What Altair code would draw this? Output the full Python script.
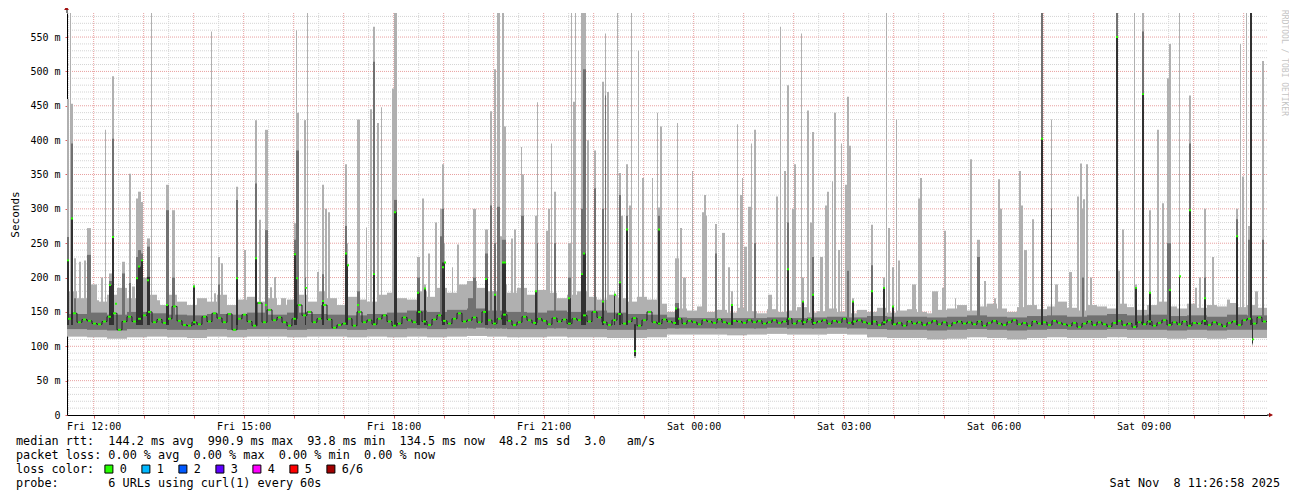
import altair as alt
import pandas as pd

MONO = "DejaVu Sans Mono"
N = None

# ---- time frame: minutes since Fri 00:00, one RRD row = 72 s = 1.2 min ----
T_START = 688.0
ROW_MIN = 1.2
N_ROWS = 1200
T_END = T_START + N_ROWS * ROW_MIN

hour_ticks = list(range(720, 2101, 60))
half_hour_ticks = list(range(690, 2101, 60))
ms_labels = list(range(0, 551, 50))
ms_major_grid = list(range(50, 551, 50))
ms_minor_grid = [v for v in range(10, 581, 10) if v % 50]

loss_labels = ["0", "1", "2", "3", "4", "5", "6/6"]
loss_colors = ["#26ff00", "#00b8ff", "#0059ff", "#5e00ff", "#ff00ff", "#ff0000", "#a10000"]

# ---- baseline smoke: 60 bins of 20 rows (ms) ----
base_p1 = [114,113,111,113,114,113,112,114,113,114, 114,113,114,114,113,114,113,114,113,114,
           115,114,113,113,114,113,113,112,112,113, 117,117,117,116,117,118,117,117,118,117,
           113,112,112,110,111,113,112,110,112,113, 112,112,113,112,112,111,112,111,112,112]
base_p2 = [125,124,123,125,125,124,124,125,124,125, 125,124,125,125,124,125,125,126,125,126,
           127,126,125,125,126,125,125,124,124,125, 126,126,126,126,126,127,126,126,127,126,
           125,124,124,123,124,125,124,123,124,125, 124,124,125,124,124,123,124,123,124,124]
base_p5 = [147,149,146,150,148,146,145,147,146,149, 146,149,147,146,145,147,149,152,150,153,
           155,152,150,149,152,150,152,149,147,146, 142,141,141,141,141,142,141,142,143,142,
           144,143,143,142,143,145,143,142,144,145, 143,145,147,145,146,144,145,143,146,145]
# outer smoke top: 120 bins of 10 rows (ms)
base_p6 = [180,170,190,165,175,185,170,200,175,160, 175,165,160,170,165,175,160,168,172,165,
           170,160,168,175,165,180,170,160,172,168, 165,175,178,170,168,180,172,185,178,190,
           195,185,180,190,178,185,175,182,178,170, 175,180,172,168,175,170,165,172,168,162,
           150,155,152,158,150,153,149,156,151,148, 154,150,152,157,149,151,155,150,148,153,
           150,156,149,152,154,150,148,153,155,160, 152,158,162,155,150,157,160,154,158,165,
           156,152,160,158,155,162,157,153,160,165, 158,155,162,156,160,158,163,157,160,156]

# ---- median rtt, 240 slots of 5 rows (ms) ----
median_ms = [140,148,135,139,137,133,132,136,143,148, 124,136,143,136,140,145,150,135,139,134,
             140,158,137,131,130,135,132,143,136,148, 141,135,147,124,140,146,136,130,163,135,
             153,138,142,135,130,140,160,145,150,135, 140,160,139,127,131,133,140,130,150,
             135,138,132,140,145,136,130,133,142,138,135,150,136,131,139,145,137,133,140,148,136,
             138,142,135,150,138,133,140,146,137,131,135,143,138,134,140,137,132,141,136,139,
             133,140,138,145,136,150,142,135,131,138,147,133,136,141,130,138,150,135,133,139,
             136,134,140,133,137,135,132,138,136,134,139,135,133,137,136,134,138,135,137,133,
             135,138,134,136,140,133,137,135,139,134,136,138,133,137,135,140,134,136,138,135,
             133,136,131,135,138,132,134,130,136,133,135,131,134,137,132,135,130,134,136,133,
             135,132,136,130,134,137,133,131,135,138,132,134,130,136,133,135,131,137,134,132,
             130,134,128,133,136,131,135,132,129,134,137,131,133,128,135,132,136,130,134,138,
             131,135,132,136,130,134,133,137,131,135,132,129,134,136,131,138,140,133,142,136]

# ---- spikes: start row, rows wide, outer max, p5, p4, median (ms) ----
spike_row = [0,3,4,7,12,17,20,26,30,34, 38,42,45,48,52,55,62,65,69,71,
             74,80,84,86,99,105,126,144,147,151, 154,169,177,188,192,198,203,207,214,227,
             229,230,237,238,240,250,255,258,261,278, 280,290,299,303,306,310,314,325,327,350,
             355,357,361,368,373,375,377,385,390,397, 401,406,418,423,427,430,433,435,437,444,
             447,454,455,468,470,479,481,484,487,501, 504,506,508,514,516,520,527,535,538,540,
             547,550,552,554,559,562,564,571,575,585, 590,591,593,608,610,613,616,625,635,637,
             639,648,655,661,664,670,673,675,677,681, 684,687,701,709,713,717,720,725,727,734,
             735,740,743,745,753,758,760,765,767,771, 774,778,780,782,785,804,816,819,821,825,
             829,831,845,851,853,865,875,877,888,903, 910,917,927,931,933,952,954,957,965,974,
             984,988,1002,1010,1013,1015,1016,1019,1023,1049, 1051,1055,1067,1068,1075,1082,1090,1095,1100,1102,
             1112,1122,1128,1132,1137,1145,1160,1169,1173,1175, 1179,1181,1183,1188,1195]
spike_w = [2,1,2,2,2,2,4,2,2,2, 1,3,2,2,6,3,2,3,2,3,
           2,3,1,7,3,3,2,1,2,2, 2,2,2,2,2,3,2,2,5,2,
           1,2,2,1,1,2,2,2,2,2, 1,3,1,2,2,2,1,2,3,3,
           2,2,2,2,2,2,1,1,2,3, 8,3,3,2,2,3,2,2,2,2,
           2,1,2,2,1,2,2,1,2,3, 1,2,1,2,3,2,2,2,1,2,
           1,1,2,2,2,2,1,1,2,1, 1,2,2,4,1,2,3,1,2,2,
           1,2,3,2,2,1,2,1,3,3, 1,2,4,2,1,2,2,2,2,1,
           2,2,2,2,3,2,2,1,2,2, 1,2,2,2,2,2,2,1,2,2,
           1,2,4,2,2,6,2,2,1,2, 3,2,2,2,2,2,2,3,2,2,
           1,3,3,2,2,2,2,2,2,2, 2,2,1,2,2,2,2,2,2,2,
           1,2,2,2,2,2,3,2,1,2, 1,2,2,3,2]
spike_max = [460,640,453,228,223,225,272,162,167,200, 415,206,493,165,182,223,351,187,315,325,
             310,257,640,167,335,298,190,558,177,230, 221,332,240,429,284,415,186,201,170,279,
             560,440,429,429,650,208,335,300,295,365, 250,430,273,445,565,425,448,475,700,230,
             315,190,235,280,300,365,250,215,248,185, 190,300,270,442,503,700,260,700,420,257,
             270,390,350,290,455,268,300,395,325,250, 700,456,700,700,700,400,385,485,555,470,
             180,700,352,290,365,305,700,530,345,345, 440,302,420,228,425,272,200,355,295,320,
             290,278,265,215,180,423,320,345,245,303, 395,415,175,318,565,355,480,300,365,555,
             200,443,280,412,230,305,325,340,440,240, 395,335,463,392,170,277,200,700,272,215,
             430,225,190,315,345,180,185,268,170,372, 255,195,170,343,300,355,305,240,285,700,
             430,190,208,318,366,300,314,365,200,700, 210,270,700,190,700,298,415,308,490,540,
             700,465,185,200,300,230,168,300,540,347, 700,275,990,180,515]
spike_p5 = [259,N,395,170,N,N,233,N,N,N, N,195,402,N,N,206,192,N,230,240,
            235,245,N,N,298,200,N,N,N,190, N,313,N,337,N,269,N,N,N,255,
            385,385,N,200,N,N,205,N,N,275, N,180,N,N,514,N,N,N,313,200,
            N,N,N,N,260,300,N,N,N,N, 170,200,235,305,250,303,N,255,255,N,
            N,290,290,N,250,N,N,N,250,200, N,N,N,300,503,N,330,300,465,N,
            N,N,320,N,290,N,N,N,N,N, N,290,N,163,N,N,N,N,N,N,
            N,235,N,N,N,N,N,N,N,N, N,250,N,N,N,N,280,N,N,N,
            N,N,N,230,N,N,N,N,N,N, N,N,210,N,N,218,N,N,N,N,
            N,N,N,N,N,N,N,N,N,N, 230,N,N,N,N,N,N,N,N,700,
            300,N,N,N,N,200,N,N,N,700, N,N,N,N,558,N,N,N,250,250,
            N,395,N,N,200,N,N,285,N,N, N,255,990,N,255]
spike_p4 = [225,N,286,N,N,N,N,N,N,N, N,189,259,N,N,N,N,N,200,216,
            225,201,N,N,160,N,187,N,N,N, N,199,N,228,N,N,N,N,N,235,
            200,N,N,185,N,N,166,N,N,235, 218,N,N,N,205,N,N,N,295,178,
            N,184,N,N,N,222,222,N,N,N, N,N,198,N,175,N,N,222,222,N,
            N,N,N,180,N,N,N,N,N,170, N,N,N,205,235,N,N,165,N,N,
            175,N,193,N,270,N,N,N,N,N, N,270,N,155,N,N,N,N,N,N,
            N,N,N,N,160,N,N,N,N,N, N,N,N,N,N,N,212,N,N,N,
            165,N,N,175,N,N,N,N,N,N, N,N,N,N,165,180,185,N,N,158,
            N,N,N,N,N,N,N,N,N,N, N,N,N,N,N,N,N,N,N,402,
            N,N,N,N,N,N,N,N,N,550, N,N,N,185,467,178,N,N,N,182,
            202,298,N,N,170,N,N,260,N,N, N,N,990,N,N]
spike_median = [225,N,286,N,N,N,N,N,N,N, N,189,259,162,N,N,N,N,199,216,
                225,196,N,N,160,N,187,N,N,N, N,199,N,228,N,160,N,N,N,234,
                199,N,N,185,N,N,166,N,N,235, 218,160,N,N,205,N,N,N,295,178,
                N,184,N,N,N,215,222,N,N,N, N,N,198,N,175,N,N,222,222,N,
                N,N,N,180,N,N,N,N,N,170, N,N,N,205,235,N,N,165,N,N,
                175,N,193,N,270,N,N,N,N,N, N,270,N,155,N,N,N,N,N,N,
                N,N,N,N,160,N,N,N,N,N, N,N,N,N,N,N,212,N,N,N,
                165,N,N,175,N,N,N,N,N,N, N,N,N,N,165,180,185,N,N,158,
                N,N,N,N,N,N,N,N,N,N, N,N,N,N,N,N,N,N,N,402,
                N,N,N,N,N,N,N,N,N,550, N,N,N,185,467,178,N,N,N,182,
                202,298,N,N,170,N,N,260,N,N, N,N,990.9,N,N]

# ---- downward dips ----
dip_row = [567, 1185]
dip_w = [2, 1]
dip_low = [86, 104]
dip_median = [93, 110]

info_rtt = "median rtt:  144.2 ms avg  990.9 ms max  93.8 ms min  134.5 ms now  48.2 ms sd  3.0   am/s"
info_loss = "packet loss: 0.00 % avg  0.00 % max  0.00 % min  0.00 % now"
info_probe = "probe:       6 URLs using curl(1) every 60s"
info_date = "Sat Nov  8 11:26:58 2025"
watermark = "RRDTOOL / TOBI OETIKER"


def nb(s):
    return s.replace(" ", "\u00a0")


def tmin(row):
    return T_START + row * ROW_MIN


# ---- build tables ----
smoke = []
for k in range(len(base_p6)):
    t0, t1 = tmin(10 * k), tmin(10 * k + 10)
    smoke.append(dict(t0=t0, t1=t1, lo=base_p1[k // 2], hi=base_p6[k], band="light"))
for k in range(len(base_p2)):
    t0, t1 = tmin(20 * k), tmin(20 * k + 20)
    smoke.append(dict(t0=t0, t1=t1, lo=base_p2[k], hi=base_p5[k], band="mid"))
for i, r in enumerate(spike_row):
    t0, t1 = tmin(r), tmin(r + spike_w[i])
    if spike_max[i] is not None:
        smoke.append(dict(t0=t0, t1=t1, lo=120, hi=spike_max[i], band="light"))
    if spike_p5[i] is not None:
        smoke.append(dict(t0=t0, t1=t1, lo=126, hi=spike_p5[i], band="mid"))
    if spike_p4[i] is not None:
        smoke.append(dict(t0=t0, t1=t1, lo=131, hi=spike_p4[i], band="dark"))
for i, r in enumerate(dip_row):
    t0, t1 = tmin(r), tmin(r + dip_w[i])
    smoke.append(dict(t0=t0, t1=t1, lo=dip_low[i] - 3, hi=120, band="light"))
    smoke.append(dict(t0=t0, t1=t1, lo=dip_low[i], hi=132, band="dark"))
smoke = pd.DataFrame(smoke)

med_line = pd.DataFrame({"t": [tmin(5 * k) for k in range(len(median_ms))] + [T_END],
                         "v": median_ms + [median_ms[-1]]})

meds = []
for k, v in enumerate(median_ms):
    t0 = tmin(5 * k + 1)
    meds.append(dict(t0=t0, t1=t0 + 3 * ROW_MIN, lo=v - 1.4, hi=v + 1.4, loss="0"))
for i, r in enumerate(spike_row):
    if spike_median[i] is not None:
        t0 = tmin(r)
        meds.append(dict(t0=t0, t1=t0 + 2 * ROW_MIN, lo=spike_median[i] - 1.4,
                         hi=spike_median[i] + 1.4, loss="0"))
for i, r in enumerate(dip_row):
    t0 = tmin(r)
    meds.append(dict(t0=t0, t1=t0 + 2 * ROW_MIN, lo=dip_median[i] - 1.4,
                     hi=dip_median[i] + 1.4, loss="0"))
meds = pd.DataFrame(meds)

# ---- scales / axes ----
xs = alt.Scale(domain=[T_START, T_END], nice=False, zero=False)
ys = alt.Scale(domain=[0, 585], nice=False, zero=True)

LBL = ("(datum.value - 720) % 180 == 0 ? (datum.value < 1440 ? 'Fri ' : 'Sat ') + "
       "(floor((datum.value % 1440) / 60) < 10 ? '0' : '') + floor((datum.value % 1440) / 60) + ':00' : ''")
x_axis = alt.Axis(values=hour_ticks, labelExpr=LBL, grid=False, domainColor="#000000",
                  tickColor="#e06060", tickSize=3, labelFont=MONO, labelFontSize=10,
                  labelColor="#000000", labelPadding=3, labelOverlap=False, labelFlush=False,
                  labelBound=False)
y_axis = alt.Axis(values=ms_labels,
                  labelExpr="datum.value == 0 ? '0\u00a0\u00a0' : datum.value + '\u00a0m'",
                  grid=False, domainColor="#000000", tickColor="#e06060", tickSize=2,
                  labelFont=MONO, labelFontSize=10, labelColor="#000000", labelPadding=5,
                  titleFont=MONO, titleFontSize=11, titleFontWeight="normal", titleColor="#000000",
                  titleX=-52, titleY=201, titleAngle=270, titleAlign="center", titleBaseline="middle")


def X(f):
    return alt.X(f, type="quantitative", scale=xs, axis=x_axis, title=None)


def Y(f):
    return alt.Y(f, type="quantitative", scale=ys, axis=y_axis, title="Seconds")


layers = []
layers.append(alt.Chart(pd.DataFrame({"v": ms_minor_grid})).mark_rule(
    color="#d4d4d4", strokeDash=[1, 1], strokeWidth=1).encode(y=Y("v")))
layers.append(alt.Chart(pd.DataFrame({"v": half_hour_ticks})).mark_rule(
    color="#d4d4d4", strokeDash=[1, 1], strokeWidth=1).encode(x=X("v")))
layers.append(alt.Chart(pd.DataFrame({"v": ms_major_grid})).mark_rule(
    color="#e8a0a0", strokeDash=[1, 1], strokeWidth=1).encode(y=Y("v")))
layers.append(alt.Chart(pd.DataFrame({"v": hour_ticks})).mark_rule(
    color="#e8a0a0", strokeDash=[1, 1], strokeWidth=1).encode(x=X("v")))

for band, col in [("light", "#b0b0b0"), ("mid", "#717171"), ("dark", "#323232")]:
    layers.append(alt.Chart(smoke[smoke.band == band]).mark_bar(color=col, clip=True).encode(
        x=X("t0"), x2=alt.X2("t1"), y=Y("lo"), y2=alt.Y2("hi")))

layers.append(alt.Chart(med_line).mark_line(interpolate="step-after", color="#222222",
                                            strokeWidth=1, clip=True).encode(x=X("t"), y=Y("v")))

legend = alt.Legend(title="loss color:", orient="none", legendX=-51, legendY=450,
                    direction="horizontal", titleOrient="left", titleFont=MONO,
                    titleFontSize=11.8, titleFontWeight="normal", titleColor="#000000",
                    titlePadding=8, labelFont=MONO, labelFontSize=11.8, labelColor="#000000",
                    labelOffset=5, symbolType="square", symbolSize=64, symbolStrokeColor="#000000",
                    symbolStrokeWidth=1, symbolOpacity=1, columnPadding=12, padding=0)
layers.append(alt.Chart(meds).mark_bar(clip=True).encode(
    x=X("t0"), x2=alt.X2("t1"), y=Y("lo"), y2=alt.Y2("hi"),
    color=alt.Color("loss:N", scale=alt.Scale(domain=loss_labels, range=loss_colors), legend=legend)))


def text_layer(s, x, y, align="left", size=11.8, color="#000000", angle=0):
    return alt.Chart(pd.DataFrame({"s": [nb(s)]})).mark_text(
        align=align, baseline="middle", font=MONO, fontSize=size, color=color, angle=angle
    ).encode(text="s:N", x=alt.value(x), y=alt.value(y))


layers.append(text_layer(info_rtt, -51, 428))
layers.append(text_layer(info_loss, -51, 442))
layers.append(text_layer(info_probe, -51, 470))
layers.append(text_layer(info_date, 1213, 470, align="right"))
layers.append(text_layer(watermark, 1217, 50, align="center", size=8, color="#c4c4c4", angle=90))

one = pd.DataFrame({"a": [0]})
layers.append(alt.Chart(one).mark_rule(color="#000000").encode(
    x=alt.value(0), y=alt.value(-4), y2=alt.value(0)))
layers.append(alt.Chart(one).mark_rule(color="#000000").encode(
    x=alt.value(1200), x2=alt.value(1203), y=alt.value(402)))
layers.append(alt.Chart(one).mark_point(shape="triangle-up", filled=True, size=22, color="#a01010",
                                        opacity=1).encode(x=alt.value(-0.5), y=alt.value(-5)))
layers.append(alt.Chart(one).mark_point(shape="triangle-right", filled=True, size=22, color="#a01010",
                                        opacity=1).encode(x=alt.value(1204), y=alt.value(402)))

chart = alt.layer(*layers).properties(
    width=1200, height=402,
    padding={"left": 59, "top": 5, "right": 22, "bottom": 76},
    autosize=alt.AutoSizeParams(type="none"),
    background="#ffffff",
).configure_view(stroke=None)

chart.save("out.html", embed_options={"renderer": "svg", "actions": False})
